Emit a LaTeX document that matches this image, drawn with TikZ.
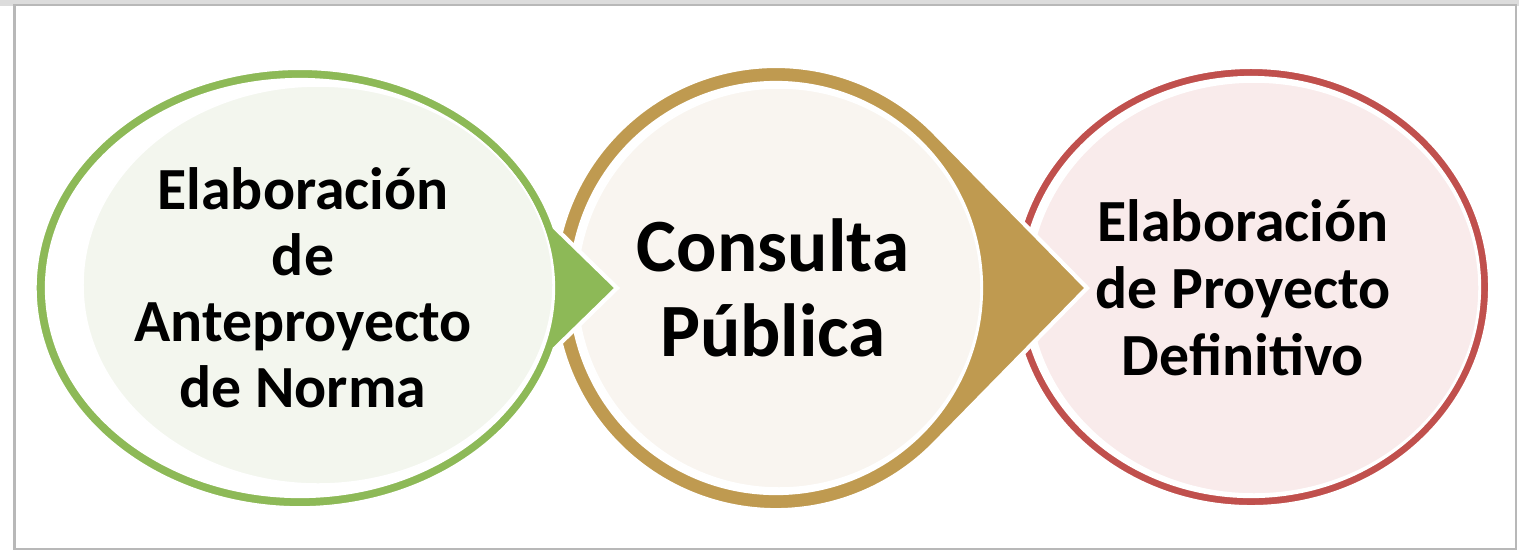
\documentclass[tikz,border=0pt]{standalone}
\usepackage{fontspec}
\setmainfont{Carlito}
\definecolor{gring}{HTML}{8DB957}
\definecolor{gfill}{HTML}{F3F6EE}
\definecolor{tring}{HTML}{BF9A50}
\definecolor{tfill}{HTML}{F9F5F0}
\definecolor{rring}{HTML}{C0504D}
\definecolor{rfill}{HTML}{F9EBEB}
\definecolor{framec}{HTML}{B8B8B8}
\tikzset{
  hull/.style={draw=white, line width=1.2pt, line join=miter},
  innerw/.style={fill=white},
  fillell/.style={draw=white, line width=0.5pt},
  label/.style={font=\bfseries, align=center, text=black, inner sep=0pt},
}
\begin{document}
\begin{tikzpicture}[x=0.01cm,y=0.01cm]
\useasboundingbox (0,0) rectangle (1519,553);
% frame
\fill[framec!50] (0,547) rectangle (1519,553);
\draw[framec, line width=0.6pt] (14.5,4) rectangle (1516,548);
% ---- red shape
\fill[rring, hull] (1251,266) ellipse[x radius=2.39cm, y radius=2.20cm];
\fill[innerw] (1251,266) ellipse[x radius=2.30cm, y radius=2.11cm];
\fill[rfill, fillell] (1254,265) ellipse[x radius=2.25cm, y radius=2.06cm];
% ---- tan shape
\coordinate (ttip) at (1087,265);
\fill[tring, hull] (ttip) -- (934.5,420.5) arc[start angle=44.45, end angle=315.55, x radius=2.22cm, y radius=2.22cm] -- cycle;
\fill[innerw] (776,265) ellipse[x radius=2.07cm, y radius=2.07cm];
\fill[tfill, fillell] (779,265) ellipse[x radius=2.02cm, y radius=2.00cm];
% ---- green shape
\coordinate (gtip) at (617,265);
\fill[gring, hull] (gtip) -- (554.7,325.6) arc[start angle=16, end angle=344, x radius=2.65cm, y radius=2.20cm] -- cycle;
\fill[innerw] (300,265) ellipse[x radius=2.55cm, y radius=2.10cm];
\fill[gfill, fillell] (318,268) ellipse[x radius=2.35cm, y radius=1.99cm];
% ---- texts
\node[label, font=\bfseries\fontsize{17}{18.8}\selectfont] (t1) at (303,265) {Elaboración\\de\\Anteproyecto\\de Norma};
\node[label, font=\bfseries\fontsize{21.4}{24.2}\selectfont] (t2) at (773,265) {Consulta\\Pública};
\node[label, font=\bfseries\fontsize{17}{19}\selectfont] (t3) at (1243,265) {Elaboración\\de Proyecto\\Definitivo};
\end{tikzpicture}
\end{document}
